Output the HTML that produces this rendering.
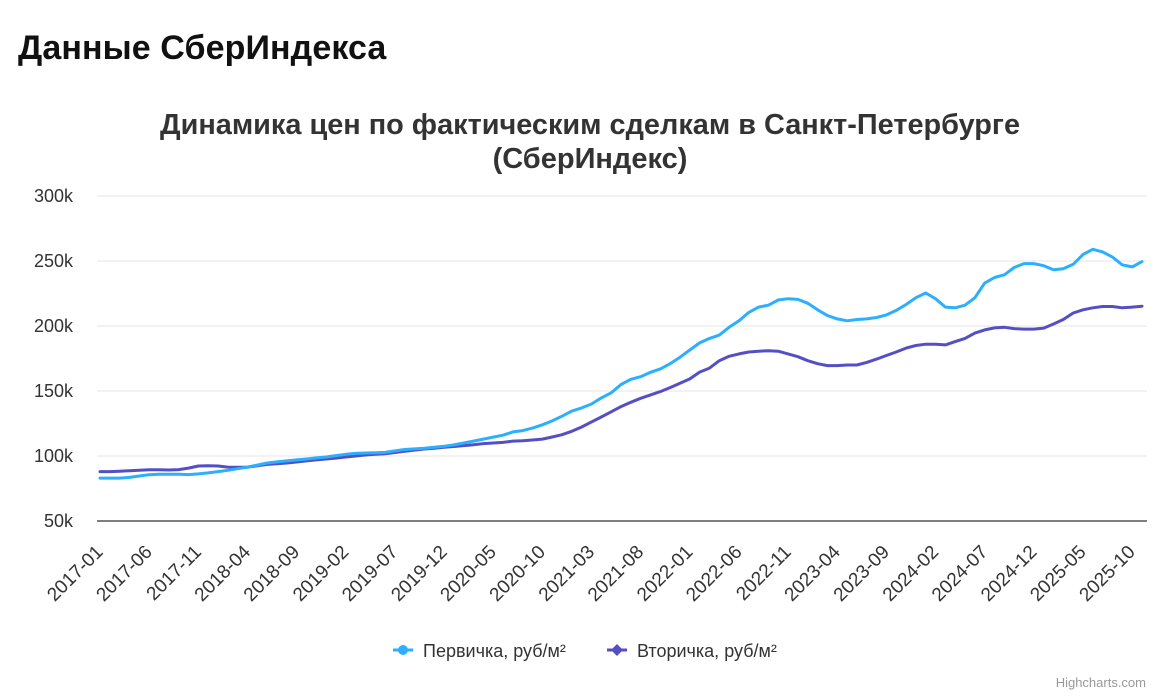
<!DOCTYPE html>
<html><head><meta charset="utf-8"><style>
body{margin:0;background:#fff;width:1164px;height:700px;overflow:hidden;font-family:"Liberation Sans",sans-serif}
h1{position:absolute;left:18px;top:29px;margin:0;font-size:34px;font-weight:bold;color:#111;letter-spacing:0.1px}
svg{position:absolute;left:0;top:0}
</style></head><body>
<h1>Данные СберИндекса</h1>
<svg id="chart" width="1164" height="700" font-family="Liberation Sans, sans-serif"></svg>
<script>
const startYear = 2017, startMonth = 1;
const primary = [83,83,83,83.5,84.6,85.6,86,86,86,85.7,86.2,87,88,89,90.2,91.5,93,94.6,95.5,96.2,97,97.7,98.5,99.2,100.3,101.3,102,102.3,102.5,102.8,104,105,105.5,106,106.8,107.5,108.5,110,111.5,113,114.5,116,118.5,119.5,121.5,124,127,130.6,134.5,137,140,144.7,148.6,155,159,161,164.4,167,171,176,181.5,187,190.5,193,199,204,210.5,214.5,216,220,221,220.5,217.5,212.5,208,205.5,204,205,205.5,206.5,208.5,212,216.5,221.8,225.4,221,214.5,214,216,221.8,233,237.3,239.4,245,248,248,246.4,243.2,244,247.5,255,259,257,253,247,245.5,249.5];
const secondary = [88,88,88.3,88.7,89,89.4,89.4,89.2,89.5,90.7,92.3,92.5,92.3,91.5,91.3,91.5,92.5,93.5,94,94.6,95.4,96.2,97,97.7,98.4,99.2,100,100.8,101.3,101.8,102.7,103.6,104.5,105.4,106,106.7,107.3,108,108.7,109.5,110,110.5,111.5,111.8,112.3,113,114.6,116.4,119,122.3,126.2,130,134,138,141.3,144.4,147,149.5,152.6,156,159.3,164.5,167.6,173.3,176.7,178.5,180,180.6,181,180.6,178.5,176.4,173.3,171,169.5,169.5,170,170,172,174.5,177.3,180,183,185,186,186,185.5,188,190.5,194.5,197,198.5,199,198,197.6,197.6,198.4,201.5,205,210,212.5,214,215,215,214,214.5,215.2];
const yTicks = [50,100,150,200,250,300];
const svg = document.getElementById('chart');
const NS = 'http://www.w3.org/2000/svg';
const X0 = 100, DX = 9.83, Y0 = 521, KY = 1.3, YMIN = 50;
const xs = i => X0 + i * DX;
const ys = v => Y0 - (v - YMIN) * KY;
function mk(tag, attrs, parent){const e=document.createElementNS(NS,tag);for(const k in attrs)e.setAttribute(k,attrs[k]);(parent||svg).appendChild(e);return e;}
let t = mk('text',{x:590,y:134,'text-anchor':'middle','font-size':'29','font-weight':'bold',fill:'#333',textLength:860,lengthAdjust:'spacingAndGlyphs'});


t.textContent='Динамика цен по фактическим сделкам в Санкт-Петербурге';
t = mk('text',{x:590,y:168,'text-anchor':'middle','font-size':'29','font-weight':'bold',fill:'#333'});


t.textContent='(СберИндекс)';
yTicks.forEach(v=>{
  const y = ys(v);
  if(v!==YMIN){const g=mk('line',{x1:97,x2:1147,y1:y,y2:y,stroke:'#e6e6e6','stroke-width':1});
  
  }
  const l=mk('text',{x:73,y:y+6,'text-anchor':'end','font-size':'18',fill:'#333'});
  
  
  l.textContent=v+'k';
});
const ax=mk('line',{x1:97,x2:1147,y1:Y0,y2:Y0,stroke:'#333','stroke-width':1.3});


for(let i=0;i<primary.length;i+=5){
  const yr=startYear+Math.floor((startMonth-1+i)/12), mo=(startMonth-1+i)%12+1;
  const x=xs(i)+4, y=553;
  const l=mk('text',{x:x,y:y,'text-anchor':'end','font-size':'19',fill:'#333',transform:`rotate(-45 ${x} ${y})`});
  
  
  l.textContent=yr+'-'+String(mo).padStart(2,'0');
}
function series(data,color,name){
  const p=mk('path',{d:data.map((v,i)=>(i?'L':'M')+xs(i).toFixed(1)+' '+ys(v).toFixed(1)).join(' '),fill:'none',stroke:color,'stroke-width':3,'stroke-linejoin':'round','stroke-linecap':'round'});
  
  
}
series(secondary,'#544fc5','secondary-line');
series(primary,'#2caffe','primary-line');
let g=mk('g',{});


mk('line',{x1:393,x2:413,y1:650,y2:650,stroke:'#2caffe','stroke-width':3},g);
mk('circle',{cx:403,cy:650,r:5,fill:'#2caffe'},g);
t=mk('text',{x:423,y:657,'font-size':'18',fill:'#333'},g);t.textContent='Первичка, руб/м²';
g=mk('g',{});


mk('line',{x1:607,x2:627,y1:650,y2:650,stroke:'#544fc5','stroke-width':3},g);
mk('path',{d:'M617 644 L623 650 L617 656 L611 650 Z',fill:'#544fc5'},g);
t=mk('text',{x:637,y:657,'font-size':'18',fill:'#333'},g);t.textContent='Вторичка, руб/м²';
t=mk('text',{x:1146,y:687,'text-anchor':'end','font-size':'13',fill:'#999'});


t.textContent='Highcharts.com';
</script>
</body></html>
